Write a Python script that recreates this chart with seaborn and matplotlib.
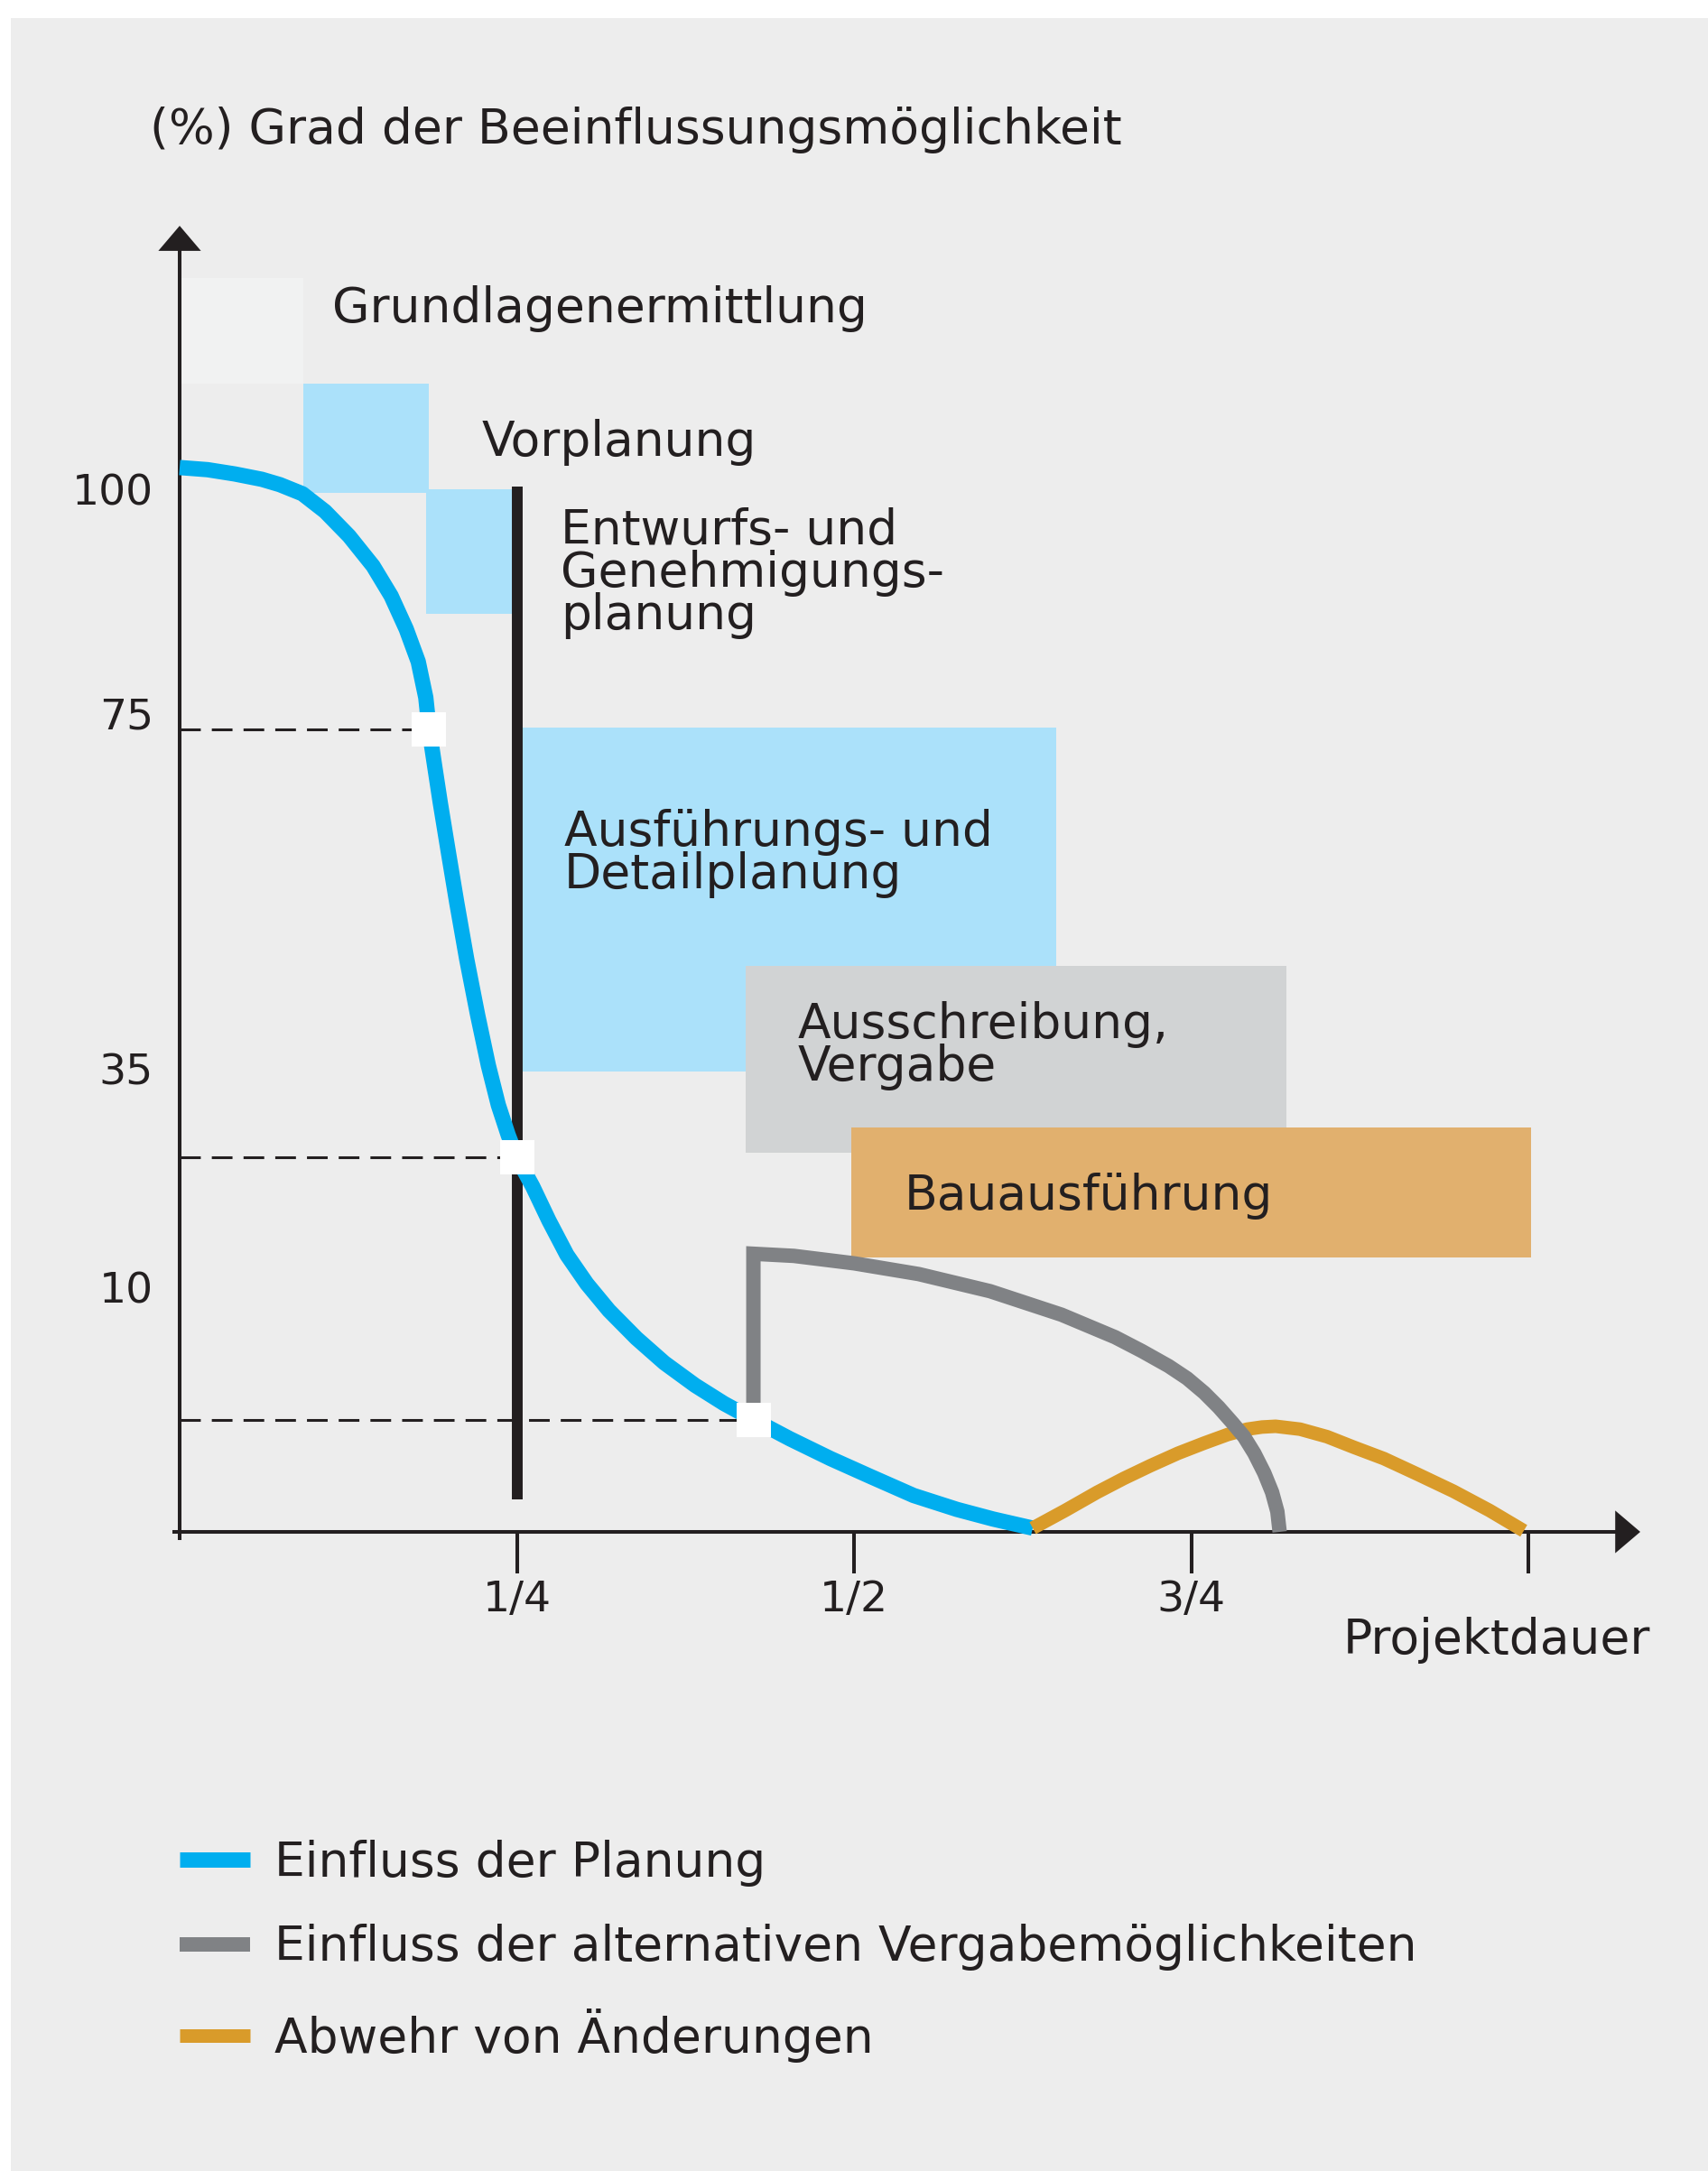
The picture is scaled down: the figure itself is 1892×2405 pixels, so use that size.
import matplotlib
matplotlib.use("Agg")
import matplotlib.pyplot as plt
import seaborn as sns

INK = "#231f20"

# Kurven: x = Anteil der Projektdauer, y = Grad der Beeinflussung (%)
planung_x = [0.0, 0.0207, 0.0408, 0.0609, 0.0743, 0.0910, 0.1078, 0.1256, 0.1434, 0.1568,
             0.1680, 0.1769, 0.1825, 0.185, 0.1892, 0.1932, 0.1993, 0.2055, 0.2129, 0.2209,
             0.2289, 0.2363, 0.2436, 0.25, 0.2617, 0.2738, 0.2871, 0.3019, 0.3183, 0.3387,
             0.3594, 0.3822, 0.4036, 0.4254, 0.4525, 0.4826, 0.5127, 0.5442, 0.5763, 0.6031,
             0.6325]
planung_y = [99.5, 99.3, 98.9, 98.4, 97.9, 97.05, 95.4, 93.1, 90.3, 87.5,
             84.4, 81.35, 78.0, 75.0, 71.5, 68.2, 63.5, 58.8, 53.5, 48.35,
             43.6, 39.9, 37.1, 35.0, 32.3, 29.1, 25.9, 23.2, 20.7, 18.1,
             15.8, 13.7, 12.0, 10.5, 8.7, 6.85, 5.15, 3.4, 2.1, 1.2,
             0.35]

vergabe_x = [0.4254, 0.4254, 0.4554, 0.5003, 0.5480, 0.6009, 0.6539, 0.6936, 0.7135, 0.7333,
             0.7470, 0.7597, 0.7704, 0.7809, 0.7892, 0.7968, 0.8042, 0.8100, 0.8139, 0.8156]
vergabe_y = [10.5, 26.0, 25.8, 25.1, 24.1, 22.5, 20.3, 18.2, 16.9, 15.5,
             14.35, 13.0, 11.65, 10.15, 8.9, 7.35, 5.5, 3.7, 1.9, 0.0]

abwehr_x = [0.6325, 0.6566, 0.6803, 0.7001, 0.7200, 0.7403, 0.7597, 0.7771, 0.7915, 0.8025,
            0.8126, 0.8307, 0.8507, 0.8708, 0.8929, 0.9177, 0.9444, 0.9712, 0.9966]
abwehr_y = [0.35, 2.0, 3.7, 5.0, 6.2, 7.35, 8.3, 9.1, 9.6, 9.8,
            9.87, 9.6, 8.9, 7.9, 6.85, 5.4, 3.8, 2.0, 0.1]

series_names = ["Einfluss der Planung",
                "Einfluss der alternativen Vergabemöglichkeiten",
                "Abwehr von Änderungen"]

# Markierte Punkte auf der Planungskurve
level_x = [0.185, 0.25, 0.4254]
level_y = [75, 35, 10.5]

# Leistungsphasen
phase_names = ["Grundlagenermittlung", "Vorplanung",
               "Entwurfs- und\nGenehmigungs-\nplanung",
               "Ausführungs- und\nDetailplanung", "Ausschreibung,\nVergabe",
               "Bauausführung"]
phase_x0 = [0.0, 0.0914, 0.1824, 0.25, 0.420, 0.4983]
phase_x1 = [0.0914, 0.1847, 0.25, 0.650, 0.8206, 1.0023]
phase_y0 = [107.3, 97.1, 85.8, 43.0, 35.4, 25.65]
phase_y1 = [117.2, 107.3, 97.5, 75.2, 52.9, 37.8]

xtick_pos = [0.25, 0.5, 0.75, 1.0]
xtick_labels = ["1/4", "1/2", "3/4", ""]
ytick_pos = [97.5, 76.5, 43.3, 22.9]
ytick_labels = ["100", "75", "35", "10"]

phase_colors = ["#f1f2f2", "#abe1fa", "#abe1fa", "#abe1fa", "#d1d3d4", "#e1b06e"]
series_colors = ["#00aeef", "#808285", "#d99b2a"]
# Grundlinie der jeweils letzten Textzeile
label_x = [0.1131, 0.2238, 0.2827, 0.2851, 0.458, 0.537]
label_y = [113.1, 100.6, 84.4, 60.2, 42.2, 30.1]

FS = 38.5

sns.set_theme(style="white")
plt.rcParams["font.family"] = ["DejaVu Sans"]
plt.rcParams["text.color"] = INK

fig = plt.figure(figsize=(18.92, 24.05), dpi=100, facecolor="white")
ax = fig.add_axes([12 / 1892, 0, 1880 / 1892, 2385 / 2405])
ax.set_facecolor("#ededed")

# Phasen als schwebende Balken
widths = [b - a for a, b in zip(phase_x0, phase_x1)]
heights = [b - a for a, b in zip(phase_y0, phase_y1)]
ax.bar(phase_x0, heights, width=widths, bottom=phase_y0, align="edge",
       color=phase_colors, linewidth=0, zorder=1)
for name, x, y in zip(phase_names, label_x, label_y):
    ax.text(x, y, name, fontsize=FS, va="baseline", ha="left", linespacing=0.88, zorder=6)

# gestrichelte Hilfslinien und senkrechte Linie bei 1/4
ax.hlines(level_y, 0, level_x, colors=INK, linestyles=(0, (7.5, 4.0)), lw=2.2, zorder=2)
ax.vlines(0.25, 3.0, 97.7, colors=INK, lw=8.6, zorder=3)

sns.lineplot(x=planung_x, y=planung_y, sort=False, estimator=None, color=series_colors[0],
             lw=12.2, solid_capstyle="butt", label=series_names[0], ax=ax, zorder=4)
sns.lineplot(x=vergabe_x, y=vergabe_y, sort=False, estimator=None, color=series_colors[1],
             lw=11.5, solid_capstyle="butt", solid_joinstyle="miter",
             label=series_names[1], ax=ax, zorder=4.2)
sns.lineplot(x=abwehr_x, y=abwehr_y, sort=False, estimator=None, color=series_colors[2],
             lw=10.8, solid_capstyle="butt", label=series_names[2], ax=ax, zorder=4.1)
sns.scatterplot(x=level_x, y=level_y, marker="s", s=28 ** 2, color="white",
                linewidth=0, ax=ax, zorder=5)

# Achsen
ax.set_xlim(-0.12517, 1.13320)
ax.set_ylim(-59.75, 141.52)
for s in ["top", "right"]:
    ax.spines[s].set_visible(False)
for s in ["left", "bottom"]:
    ax.spines[s].set_position(("data", 0))
    ax.spines[s].set_color(INK)
    ax.spines[s].set_linewidth(2.9)
ax.spines["left"].set_bounds(-0.6, 120.5)
ax.spines["bottom"].set_bounds(-0.004, 1.066)
ax.set_xticks(xtick_pos, xtick_labels)
ax.set_yticks(ytick_pos, ytick_labels)
ax.tick_params(axis="x", bottom=True, direction="out", length=33, width=2.9,
               pad=5, labelsize=34, colors=INK)
ax.tick_params(axis="y", left=True, length=0, pad=21, labelsize=34, colors=INK)
ax.set_xlabel("")
ax.set_ylabel("")

arrow = dict(arrowstyle="-|>,head_length=1.0,head_width=0.85", color=INK, lw=0,
             shrinkA=0, shrinkB=0, mutation_scale=20)
ax.annotate("", xy=(1.083, 0), xytext=(1.06, 0), arrowprops=arrow)
ax.annotate("", xy=(0, 122.1), xytext=(0, 119.5), arrowprops=arrow)

ax.text(-0.0218, 129.8, "(%) Grad der Beeinflussungsmöglichkeit", fontsize=FS, va="baseline")
ax.text(0.8628, -11.37, "Projektdauer", fontsize=FS, va="baseline")

handles, labels = ax.get_legend_handles_labels()
ax.legend(handles, labels, loc="center left", bbox_to_anchor=(0, -39.2),
          bbox_transform=ax.transData, frameon=False, fontsize=FS,
          borderpad=0, borderaxespad=0, handlelength=1.46, handletextpad=0.5,
          labelspacing=0.78)

fig.savefig("out.png", dpi=100, facecolor=fig.get_facecolor())
